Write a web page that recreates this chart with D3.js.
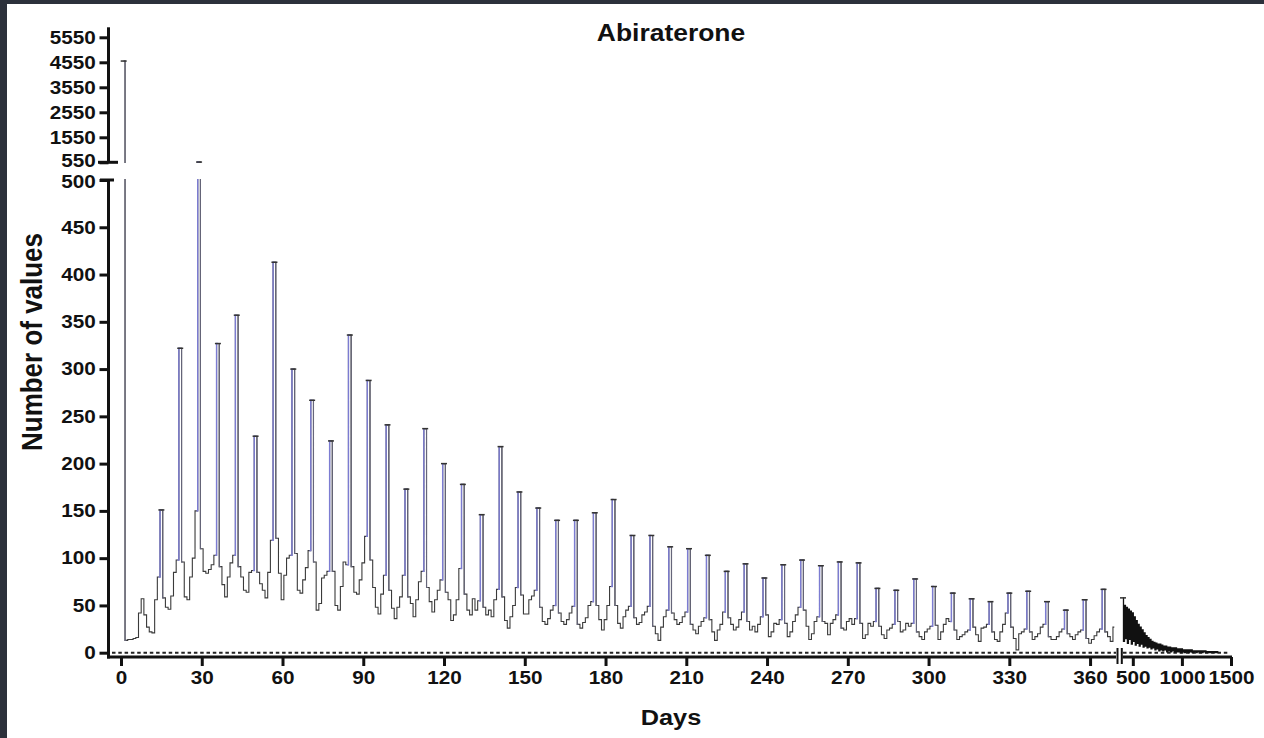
<!DOCTYPE html>
<html>
<head>
<meta charset="utf-8">
<script src="https://cdn.jsdelivr.net/npm/d3@7"></script>
<style>
  body { margin: 0; background: #fff; }
  svg { display: block; }
  text { font-family: "Liberation Sans", Arial, sans-serif; font-weight: bold; fill: #111; }
</style>
</head>
<body>
<svg id="chart" width="1264" height="738"></svg>
<script>
const title = 'Abiraterone'
const xTitle = 'Days'
const yTitle = 'Number of values'

// daily counts, first value is day 1 (one row = one week)
const firstDay = 1
const mainValues = [
  4600, 13, 14, 14, 15, 16, 42,
  57, 40, 27, 22, 21, 56, 80,
  151, 58, 48, 46, 60, 85, 98,
  322, 96, 59, 56, 80, 100, 150,
  560, 110, 86, 84, 88, 93, 103,
  327, 91, 72, 59, 80, 95, 103,
  357, 91, 80, 66, 64, 85, 87,
  229, 85, 73, 66, 58, 85, 119,
  413, 121, 84, 56, 82, 100, 103,
  300, 105, 66, 63, 77, 90, 108,
  267, 96, 45, 52, 79, 82, 86,
  224, 86, 50, 45, 70, 96, 93,
  336, 91, 64, 62, 77, 95, 123,
  288, 98, 69, 48, 41, 62, 82,
  241, 66, 47, 36, 48, 59, 82,
  173, 59, 52, 38, 56, 75, 86,
  237, 69, 54, 43, 56, 66, 77,
  200, 64, 56, 34, 40, 56, 89,
  178, 62, 45, 40, 57, 45, 55,
  146, 48, 40, 45, 38, 56, 67,
  218, 59, 34, 26, 38, 50, 69,
  170, 61, 41, 41, 56, 60, 66,
  153, 48, 33, 30, 36, 45, 50,
  140, 42, 33, 30, 35, 42, 49,
  140, 30, 26, 32, 37, 50, 54,
  148, 50, 35, 24, 35, 50, 70,
  162, 50, 31, 26, 38, 45, 49,
  124, 37, 30, 32, 40, 43, 49,
  124, 28, 20, 13, 27, 38, 45,
  112, 42, 35, 30, 32, 38, 43,
  110, 30, 24, 20, 28, 33, 37,
  103, 35, 22, 13, 24, 30, 43,
  86, 37, 30, 24, 27, 35, 43,
  94, 33, 24, 28, 22, 30, 38,
  79, 40, 17, 22, 31, 30, 35,
  93, 31, 17, 22, 33, 40, 48,
  98, 45, 28, 14, 20, 33, 38,
  92, 33, 31, 19, 31, 35, 40,
  96, 26, 24, 33, 36, 30, 36,
  95, 31, 15, 19, 31, 28, 33,
  68, 28, 19, 15, 24, 26, 30,
  66, 33, 22, 24, 31, 28, 31,
  78, 22, 17, 14, 22, 25, 28,
  70, 29, 14, 22, 30, 36, 33,
  63, 24, 14, 17, 19, 22, 24,
  57, 27, 19, 12, 26, 27, 30,
  54, 22, 14, 12, 22, 30, 42,
  63, 27, 15, 3, 20, 22, 25,
  65, 22, 14, 17, 20, 27, 30,
  54, 17, 14, 14, 17, 22, 25,
  45, 20, 17, 14, 19, 22, 24,
  56, 15, 10, 14, 18, 22, 25,
  67, 22, 17, 12, 27
]

// long tail after the axis break, one value every 10 days from day 400
const tailStart = 400
const tailStep = 10
const tailValues = [
  58, 12, 50, 15, 48, 10, 46, 14, 44, 9,
  42, 12, 38, 8, 34, 10, 30, 7, 27, 9,
  24, 6, 21, 7, 18, 5, 16, 6, 14, 4,
  12, 5, 11, 3, 10, 4, 9, 2, 9, 3,
  8, 2, 7, 3, 7, 1, 6, 2, 6, 1,
  5, 2, 5, 1, 5, 1, 4, 1, 4, 0,
  4, 1, 3, 0, 3, 1, 3, 0, 3, 1,
  3, 0, 2, 1, 2, 0, 2, 1, 2, 0,
  2, 0, 2, 1, 2, 0, 1, 0, 1, 0,
  1, 0, 1, 0, 1, 0, 1, 0
]

const lowTicks = [0, 50, 100, 150, 200, 250, 300, 350, 400, 450, 500]
const highTicks = [550, 1550, 2550, 3550, 4550, 5550]
const dayTicks = [0, 30, 60, 90, 120, 150, 180, 210, 240, 270, 300, 330, 360]
const tailTicks = [500, 1000, 1500]

const width = 1264, height = 738
const svg = d3.select('#chart')

// dark frame of the screenshot
svg.append('rect').attr('width', width).attr('height', height).attr('fill', '#2c313b')
svg.append('rect').attr('x', 7).attr('y', 4).attr('width', width - 7).attr('height', height - 4).attr('fill', '#fff')

const axisX = 108.5
const axisY = 657
const xMain = d3.scaleLinear().domain([0, 369]).range([121, 1114.3])
const xTail = d3.scaleLinear().domain([400, 1500]).range([1123, 1231])
const yLow = d3.scaleLinear().domain([0, 500]).range([652.7, 180])
const yHigh = d3.scaleLinear().domain([550, 5950]).range([162.3, 27.3])

const mainSeries = mainValues.map((v, i) => ({ day: firstDay + i, value: v }))
const tailSeries = tailValues.map((v, i) => ({ day: tailStart + i * tailStep, value: v }))

// weekly peaks: points well above both neighbours
const spikes = mainSeries.map((d, i) => {
  const p = mainSeries[i - 1], n = mainSeries[i + 1]
  const m = Math.max(p ? p.value : 0, n ? n.value : 0)
  return { d: d, p: p, n: n, isSpike: d.value - m > 15 }
}).filter(s => s.isSpike)

const defs = svg.append('defs')
defs.append('clipPath').attr('id', 'lowClip')
  .append('rect').attr('x', 110).attr('y', 179).attr('width', 1125).attr('height', 490)
defs.append('clipPath').attr('id', 'highClip')
  .append('rect').attr('x', 110).attr('y', 20).attr('width', 1125).attr('height', 143)

// zero reference line (dotted)
svg.append('g').selectAll('line')
  .data([[112, 1116], [1123, 1229]])
  .enter().append('line')
  .attr('x1', d => d[0]).attr('x2', d => d[1])
  .attr('y1', yLow(0)).attr('y2', yLow(0))
  .attr('stroke', '#222').attr('stroke-width', 2).attr('stroke-dasharray', '3.5,2.8')

function drawPanel (clipId, y) {
  const g = svg.append('g').attr('clip-path', 'url(#' + clipId + ')')
  const line = d3.line().curve(d3.curveStep).x(d => xMain(d.day)).y(d => y(d.value))
  const tailLine = d3.line().curve(d3.curveStep).x(d => xTail(d.day)).y(d => y(d.value))

  g.append('path').datum(mainSeries)
    .attr('d', line)
    .attr('fill', 'none').attr('stroke', '#3a3a3a').attr('stroke-width', 1.1)

  // coloured rise of each peak
  g.selectAll('.rise').data(spikes.filter(s => s.p))
    .enter().append('path').attr('class', 'rise')
    .attr('d', s => line([s.p, s.d]))
    .attr('fill', 'none').attr('stroke', '#7c7cd2').attr('stroke-width', 1.4)

  g.selectAll('.fall').data(spikes.filter(s => s.n))
    .enter().append('path').attr('class', 'fall')
    .attr('d', s => line([s.d, s.n]))
    .attr('fill', 'none').attr('stroke', '#66667a').attr('stroke-width', 1.1)

  g.selectAll('.cap').data(spikes)
    .enter().append('line').attr('class', 'cap')
    .attr('x1', s => xMain(s.d.day) - 3).attr('x2', s => xMain(s.d.day) + 3)
    .attr('y1', s => y(s.d.value)).attr('y2', s => y(s.d.value))
    .attr('stroke', '#333').attr('stroke-width', 1.5)

  g.append('path').datum(tailSeries)
    .attr('d', tailLine)
    .attr('fill', 'none').attr('stroke', '#111').attr('stroke-width', 1.3)

  g.append('line')
    .attr('x1', xTail(tailStart) - 3).attr('x2', xTail(tailStart) + 3)
    .attr('y1', y(tailValues[0])).attr('y2', y(tailValues[0]))
    .attr('stroke', '#333').attr('stroke-width', 1.5)
}

drawPanel('lowClip', yLow)
drawPanel('highClip', yHigh)

const stretch = 'scale(1.15,1)'

function styleAxis (g) {
  g.select('.domain').remove()
  g.selectAll('.tick line').attr('stroke', '#111').attr('stroke-width', 3)
  g.selectAll('.tick text')
    .attr('font-size', 18).attr('fill', '#111')
    .attr('transform', stretch)
}

// y axes (broken)
svg.append('g').attr('transform', 'translate(' + axisX + ',0)')
  .call(d3.axisLeft(yLow).tickValues(lowTicks).tickFormat(d3.format('d')).tickSize(9).tickPadding(2))
  .call(styleAxis)
  .selectAll('.tick text').filter(d => d === 500).attr('dy', '0.42em')
svg.append('g').attr('transform', 'translate(' + axisX + ',0)')
  .call(d3.axisLeft(yHigh).tickValues(highTicks).tickFormat(d3.format('d')).tickSize(9).tickPadding(2))
  .call(styleAxis)
  .selectAll('.tick text').filter(d => d === 550).attr('dy', '0.22em')

const axisLines = [
  // lower y axis, upper y axis
  [axisX, yLow(500), axisX, axisY + 1.5],
  [axisX, yHigh(5950), axisX, yHigh(550)],
  // break caps
  [98, yHigh(550), 118, yHigh(550)],
  [100, yLow(500), 114, yLow(500)],
  // x axes
  [axisX - 1.5, axisY, 1116, axisY],
  [1122.5, axisY, 1232, axisY]
]
svg.append('g').selectAll('line').data(axisLines)
  .enter().append('line')
  .attr('x1', d => d[0]).attr('y1', d => d[1]).attr('x2', d => d[2]).attr('y2', d => d[3])
  .attr('stroke', '#111').attr('stroke-width', 3)

// x break marks
svg.append('g').selectAll('line').data([1117.5, 1121.8])
  .enter().append('line')
  .attr('x1', d => d).attr('x2', d => d)
  .attr('y1', 648).attr('y2', 664)
  .attr('stroke', '#111').attr('stroke-width', 2)

svg.append('g').attr('transform', 'translate(0,' + axisY + ')')
  .call(d3.axisBottom(xMain).tickValues(dayTicks).tickSize(9).tickPadding(5.5))
  .call(styleAxis)
svg.append('g').attr('transform', 'translate(0,' + axisY + ')')
  .call(d3.axisBottom(xTail).tickValues(tailTicks).tickFormat(d3.format('d')).tickSize(9).tickPadding(5.5))
  .call(styleAxis)

// titles
svg.append('text')
  .attr('transform', 'translate(671,41) ' + stretch)
  .attr('text-anchor', 'middle').attr('font-size', 23)
  .text(title)

svg.append('text')
  .attr('transform', 'translate(671,725) ' + stretch)
  .attr('text-anchor', 'middle').attr('font-size', 22)
  .text(xTitle)

svg.append('text')
  .attr('transform', 'translate(42,342) rotate(-90) scale(1,1.15)')
  .attr('text-anchor', 'middle').attr('font-size', 26)
  .text(yTitle)
</script>
</body>
</html>
